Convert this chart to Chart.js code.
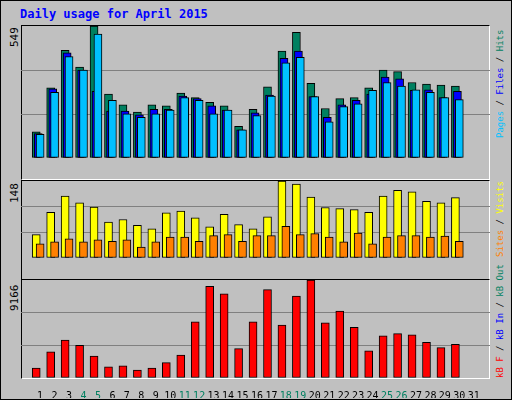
<!DOCTYPE html>
<html>
<head>
<meta charset="utf-8">
<script src="https://cdn.jsdelivr.net/npm/chart.js@4/dist/chart.umd.min.js"></script>
<style>
body { margin:0; background:#fff; }
#frame { position:absolute; left:0; top:0; width:510px; height:398px; background:#c0c0c0; border:1px solid #000; }
.panel { position:absolute; left:21px; width:469px; border-top:1px solid #000; border-left:1px solid #000; border-right:1px solid #fff; border-bottom:1px solid #fff; box-sizing:border-box; }
canvas { position:absolute; }
.lbl { position:absolute; font-family:"DejaVu Sans Mono", monospace; font-size:9px; white-space:nowrap; transform-origin:0 0; transform:rotate(-90deg); }
#title { position:absolute; left:20px; top:7px; font-family:"DejaVu Sans Mono", monospace; font-weight:bold; font-size:12px; color:#0000ff; }
</style>
</head>
<body>
<div id="frame"></div>
<div id="title">Daily usage for April 2015</div>
<div class="panel" style="top:25px;height:155px"></div>
<div class="panel" style="top:180px;height:100px"></div>
<div class="panel" style="top:279px;height:100px"></div>
<div class="lbl" style="left:8px;top:47px;color:#000;font-size:11px">549</div>
<div class="lbl" style="left:8px;top:203px;color:#000;font-size:11px">148</div>
<div class="lbl" style="left:8px;top:311px;color:#000;font-size:11px">9166</div>
<div class="lbl" style="left:495px;top:138px"><span style="color:#00c0ff">Pages</span> / <span style="color:#0000ff">Files</span> / <span style="color:#008060">Hits</span></div>
<div class="lbl" style="left:495px;top:257px"><span style="color:#ff8000">Sites</span> / <span style="color:#ffff00">Visits</span></div>
<div class="lbl" style="left:495px;top:378px"><span style="color:#ff0000">kB F</span> / <span style="color:#0000ff">kB In</span> / <span style="color:#008060">kB Out</span></div>
<canvas id="c1" width="469" height="152" style="left:21px;top:26px"></canvas>
<canvas id="c2" width="469" height="97" style="left:21px;top:181px"></canvas>
<canvas id="c3" width="469" height="118" style="left:21px;top:280px"></canvas>
<script>
let days = [1,2,3,4,5,6,7,8,9,10,11,12,13,14,15,16,17,18,19,20,21,22,23,24,25,26,27,28,29,30];
let weekends = [4,5,11,12,18,19,25,26];
let hits = [109,292,448,378,549,266,221,191,221,217,270,251,232,217,132,202,296,445,523,311,206,247,251,292,366,359,314,307,303,299];
let files = [102,288,437,366,277,195,195,180,202,202,258,247,217,199,117,188,262,415,445,255,169,221,240,266,337,329,281,284,251,277];
let pages = [98,273,422,366,515,240,184,169,184,199,251,240,184,199,117,176,258,396,419,255,150,214,225,281,314,299,284,273,251,243];
let visits = [45,88,119,106,98,69,74,63,56,87,90,77,60,84,64,56,79,148,142,117,97,95,93,88,119,130,127,109,106,116];
let sites = [27,31,37,31,35,32,35,21,31,40,40,32,43,45,32,43,43,61,45,47,40,31,48,27,40,43,43,40,42,32];
let kbytes = [937,2442,3546,3044,2041,1037,1137,736,937,1438,2141,5252,8564,7861,2743,5252,8263,4951,7661,9166,5152,6256,4750,2542,3947,4148,4048,3345,2843,3145];

function pts(values, shift) {
    return values.map((v, i) => ({ x: days[i] + shift, y: v }));
}
// order: higher numbers are drawn first (further back)
function ds(values, shift, color, order) {
    return { data: pts(values, shift), backgroundColor: color, borderColor: "#000", borderWidth: 1,
             borderSkipped: false, barThickness: 8, grouped: false, order: order };
}
function makeChart(id, datasets, max, showX) {
    return new Chart(document.getElementById(id), {
        type: 'bar',
        data: { datasets: datasets },
        options: {
            responsive: false, animation: false,
            layout: { padding: 0 },
            plugins: { legend: { display: false }, tooltip: { enabled: false } },
            scales: {
                x: {
                    type: 'linear', min: 0.2, max: 31.6, display: showX,
                    grid: { display: false }, border: { display: false },
                    afterBuildTicks: s => { s.ticks = []; for (let d = 1; d <= 31; d++) s.ticks.push({ value: d }); },
                    afterFit: s => { s.height = 20; },
                    ticks: {
                        autoSkip: false, maxRotation: 0, padding: 4,
                        font: { family: "DejaVu Sans Mono", size: 10 },
                        color: c => weekends.includes(c.tick.value) ? "#008060" : "#000",
                        callback: v => String(v)
                    }
                },
                y: {
                    min: 0, max: max,
                    afterBuildTicks: s => { s.ticks = [0, max / 3, max * 2 / 3, max].map(v => ({ value: v })); },
                    afterFit: s => { s.width = 0; },
                    ticks: { display: false },
                    border: { display: false },
                    grid: { drawTicks: false, color: c => (c.index === 1 || c.index === 2) ? "#808080" : "rgba(0,0,0,0)" }
                }
            }
        }
    });
}

makeChart("c1", [ds(hits, -0.27, "#008060", 3), ds(files, -0.13, "#0000ff", 2), ds(pages, 0, "#00c0ff", 1)], 549, false);
makeChart("c2", [ds(visits, -0.27, "#ffff00", 2), ds(sites, 0, "#ff8000", 1)], 148, false);
makeChart("c3", [ds(kbytes, -0.27, "#ff0000", 1)], 9166, true);
</script>
</body>
</html>
